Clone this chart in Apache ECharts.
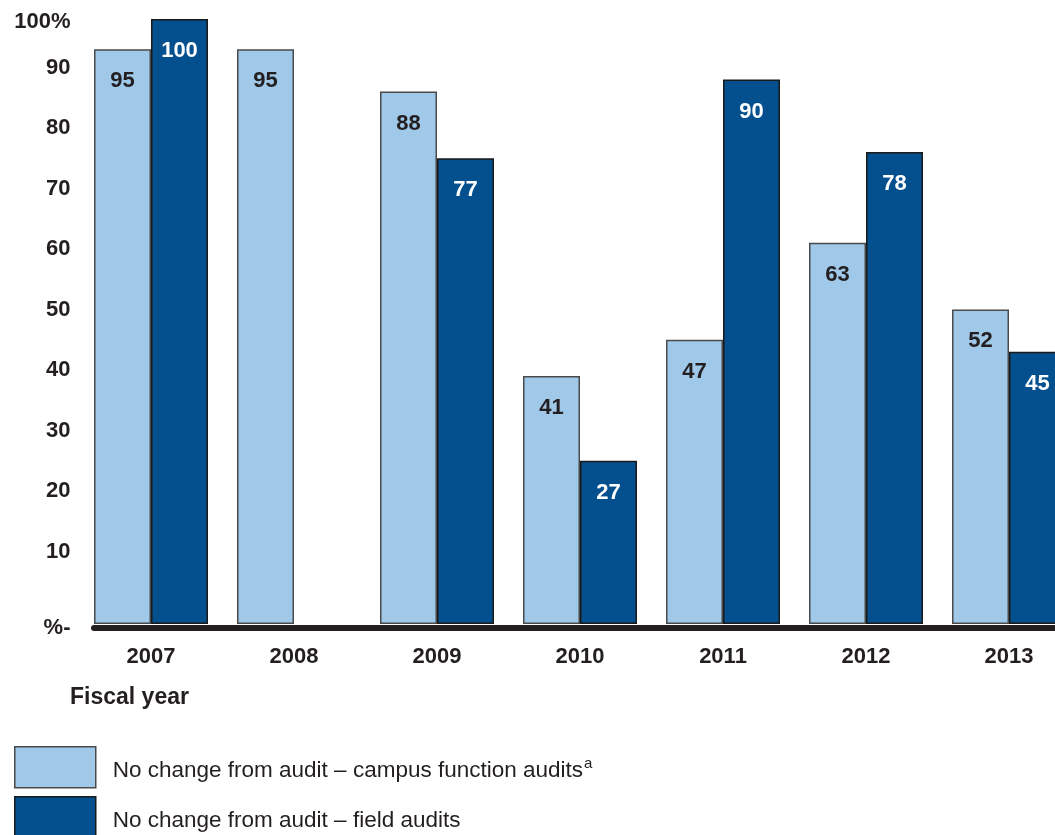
<!DOCTYPE html>
<html>
<head>
<meta charset="utf-8">
<script src="https://cdn.jsdelivr.net/npm/echarts@6/dist/echarts.min.js"></script>
<style>
html,body{margin:0;padding:0;background:#fff;}
#chart{width:1055px;height:835px;}
</style>
</head>
<body>
<div id="chart"></div>
<script>
// ---- data ----
const categories = ['2007', '2008', '2009', '2010', '2011', '2012', '2013'];
const campusValues = [95, 95, 88, 41, 47, 63, 52];
const fieldValues = [100, null, 77, 27, 90, 78, 45];
const seriesNames = ['No change from audit \u2013 campus function audits', 'No change from audit \u2013 field audits'];
const yTicks = { 0: '%-', 100: '100%' };
const xAxisTitle = 'Fiscal year';

const FONT = '"Liberation Sans", Arial, Helvetica, sans-serif';
const TXT = '#231f20';
const LIGHT = '#9fc8e9';
const DARK = '#044f8d';

const chart = echarts.init(document.getElementById('chart'), null, { renderer: 'canvas' });

const boldStyle = { fontFamily: FONT, fontWeight: 'bold', fontSize: 22, color: TXT };

function legendBlock(idx, top) {
  return {
    orient: 'vertical',
    left: 14,
    top: top,
    padding: 0,
    itemWidth: 81,
    itemHeight: 41,
    icon: 'rect',
    data: [{
      name: seriesNames[idx],
      itemStyle: idx === 0
        ? { color: LIGHT, borderColor: '#4a4a4a', borderWidth: 1.5 }
        : { color: DARK, borderColor: '#1a1a1a', borderWidth: 1.5 }
    }],
    formatter: function (name) {
      if (name === seriesNames[0]) return '{n|' + name + '}{s|a}';
      return '{n|' + name + '}';
    },
    textStyle: {
      fontFamily: FONT, fontSize: 22.5, color: TXT, padding: [0, 0, 0, 12],
      rich: {
        n: { fontFamily: FONT, fontSize: 22.5, color: TXT, padding: [8, 0, 0, 0] },
        s: { fontFamily: FONT, fontSize: 15, color: TXT, verticalAlign: 'top', padding: [5, 0, 0, 1] }
      }
    },
    selectedMode: false
  };
}

chart.setOption({
  animation: false,
  backgroundColor: '#ffffff',
  title: {
    text: xAxisTitle,
    left: 70,
    top: 686,
    padding: 0,
    textStyle: { fontFamily: FONT, fontWeight: 'bold', fontSize: 23, color: TXT }
  },
  legend: [legendBlock(0, 746), legendBlock(1, 796)],
  grid: [
    { left: 79.5, top: 19, width: 1001, height: 605, containLabel: false, outerBoundsMode: 'none' },
    { left: 94, top: 19, width: 1100, height: 605, containLabel: false, outerBoundsMode: 'none' }
  ],
  xAxis: [
    {
      type: 'category',
      gridIndex: 0,
      data: categories,
      axisLine: { show: false },
      axisTick: { show: false },
      axisLabel: Object.assign({ margin: 22, interval: 0 }, boldStyle)
    },
    {
      type: 'category',
      gridIndex: 1,
      data: [''],
      offset: 3.5,
      axisLine: { show: true, onZero: false, lineStyle: { color: '#231f20', width: 6 } },
      axisTick: { show: false },
      axisLabel: { show: false }
    }
  ],
  yAxis: [
    {
      type: 'value',
      gridIndex: 0,
      min: 0,
      max: 100,
      interval: 10,
      axisLine: { show: false },
      axisTick: { show: false },
      splitLine: { show: false },
      axisLabel: {
        margin: 9,
        formatter: function (v) {
          if (v === 0) return '{z|' + yTicks[0] + '}';
          if (v === 100) return '{t|' + yTicks[100] + '}';
          return '{m|' + v + '}';
        },
        rich: {
          m: Object.assign({ padding: [0, 0, 24, 0] }, boldStyle),
          z: Object.assign({ padding: [8, 0, 0, 0] }, boldStyle),
          t: Object.assign({ padding: [6, 0, 0, 0] }, boldStyle)
        }
      }
    },
    { type: 'value', gridIndex: 1, min: 0, max: 100, show: false }
  ],
  series: [
    {
      name: seriesNames[0],
      type: 'bar',
      xAxisIndex: 0,
      yAxisIndex: 0,
      data: campusValues,
      barWidth: 57,
      barGap: '0%',
      itemStyle: { color: LIGHT, borderColor: '#4a4a4a', borderWidth: 1.5 },
      label: {
        show: true, position: 'insideTop', distance: 21,
        fontFamily: FONT, fontWeight: 'bold', fontSize: 22, color: TXT
      }
    },
    {
      name: seriesNames[1],
      type: 'bar',
      xAxisIndex: 0,
      yAxisIndex: 0,
      data: fieldValues,
      barWidth: 57,
      barGap: '0%',
      itemStyle: { color: DARK, borderColor: '#1a1a1a', borderWidth: 1.5 },
      label: {
        show: true, position: 'insideTop', distance: 21,
        fontFamily: FONT, fontWeight: 'bold', fontSize: 22, color: '#ffffff'
      }
    }
  ]
});
</script>
</body>
</html>
